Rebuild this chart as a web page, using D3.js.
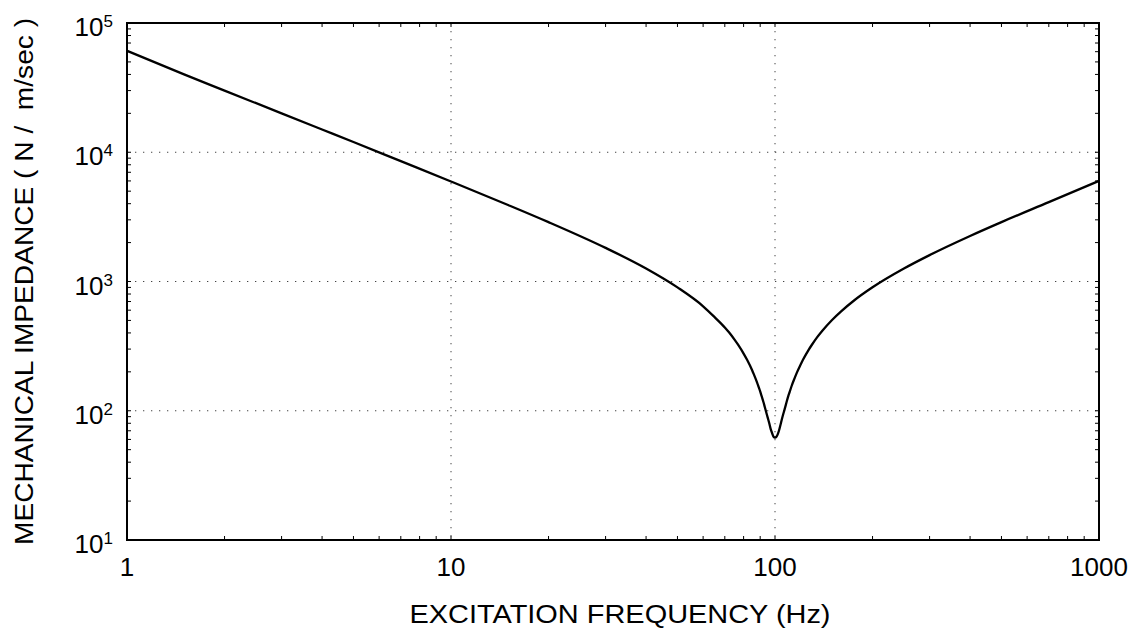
<!DOCTYPE html>
<html>
<head>
<meta charset="utf-8">
<script src="https://cdn.jsdelivr.net/npm/d3@7"></script>
<style>
  body { margin: 0; background: #fff; }
  svg text { font-family: "Liberation Sans", Arial, Helvetica, sans-serif; fill: #000; }
</style>
</head>
<body>
<div id="chart"></div>
<script>
// frequencies (Hz) and impedance (N / m/sec)
const freqs = [1, 1.5, 2, 3, 4, 5, 7, 10, 15, 20, 30, 40, 50, 60, 65, 70, 72, 75, 77, 80, 82, 85, 86, 88, 89, 90, 91, 92, 93, 94, 95, 96, 97, 98, 99, 100,
               101, 102, 103, 104, 105, 106, 107, 108, 109, 110, 111, 112, 113, 115, 117, 120, 122, 125, 127, 130, 135, 140, 150, 160, 175, 200, 250, 300, 400, 500, 700, 1000];
const impedance = [61000, 40000, 30000, 20000, 15000, 12000, 8530, 5940, 3910, 2880, 1820, 1260, 900, 643, 532, 441, 406, 355, 323, 277, 248, 206, 192, 166, 153, 141, 129, 118, 107, 97, 88, 80, 72, 67, 63, 62,
                   63, 66, 71, 78, 86, 94, 102, 111, 121, 131, 140, 150, 160, 179, 199, 228, 248, 277, 296, 324, 371, 416, 504, 588, 710, 902, 1260, 1600, 2250, 2880, 4110, 6000];

const xMajor = [1, 10, 100, 1000];
const xTickLabels = ["1", "10", "100", "1000"];
const yMajor = [10, 100, 1000, 10000, 100000];
const yExponents = ["1", "2", "3", "4", "5"];

const W = 1138, H = 641;
const margin = { top: 23, right: 39, bottom: 101, left: 127 };
const width = W - margin.left - margin.right;
const height = H - margin.top - margin.bottom;

const svg = d3.select("#chart").append("svg")
    .attr("width", W)
    .attr("height", H);

const g = svg.append("g")
    .attr("transform", "translate(" + margin.left + "," + margin.top + ")");

const x = d3.scaleLog().domain([1, 1000]).range([0, width]);
const y = d3.scaleLog().domain([10, 100000]).range([height, 0]);

// minor tick positions (2..9 per decade)
const xMinor = [];
for (let d = 1; d < 1000; d *= 10) for (let k = 2; k <= 9; k++) xMinor.push(d * k);
const yMinor = [];
for (let d = 10; d < 100000; d *= 10) for (let k = 2; k <= 9; k++) yMinor.push(d * k);

// dotted grid at the decades
g.append("g").selectAll("line")
    .data(xMajor.slice(1, -1))
    .enter().append("line")
    .attr("x1", d => x(d)).attr("x2", d => x(d))
    .attr("y1", 0).attr("y2", height)
    .attr("stroke", "#444")
    .attr("stroke-width", 1)
    .attr("stroke-dasharray", "1.3,6.7");

g.append("g").selectAll("line")
    .data(yMajor.slice(1, -1))
    .enter().append("line")
    .attr("y1", d => y(d)).attr("y2", d => y(d))
    .attr("x1", 0).attr("x2", width)
    .attr("stroke", "#444")
    .attr("stroke-width", 1)
    .attr("stroke-dasharray", "1.3,6.7");

// inside ticks on all four sides
const tickLen = 4;
const ticks = g.append("g").attr("stroke", "#000").attr("stroke-width", 1);
xMinor.concat(xMajor).forEach(function(d) {
    ticks.append("line").attr("x1", x(d)).attr("x2", x(d)).attr("y1", height).attr("y2", height - tickLen);
    ticks.append("line").attr("x1", x(d)).attr("x2", x(d)).attr("y1", 0).attr("y2", tickLen);
});
yMinor.concat(yMajor).forEach(function(d) {
    ticks.append("line").attr("y1", y(d)).attr("y2", y(d)).attr("x1", 0).attr("x2", tickLen);
    ticks.append("line").attr("y1", y(d)).attr("y2", y(d)).attr("x1", width).attr("x2", width - tickLen);
});

// the curve
const line = d3.line()
    .x((d, i) => x(freqs[i]))
    .y(d => y(d))
    .curve(d3.curveMonotoneX);

g.append("path")
    .datum(impedance)
    .attr("fill", "none")
    .attr("stroke", "#000")
    .attr("stroke-width", 2.3)
    .attr("stroke-linejoin", "round")
    .attr("d", line);

// frame
g.append("rect")
    .attr("x", 0).attr("y", 0)
    .attr("width", width).attr("height", height)
    .attr("fill", "none")
    .attr("stroke", "#000")
    .attr("stroke-width", 2);

// x tick labels
g.append("g").selectAll("text")
    .data(xMajor)
    .enter().append("text")
    .attr("x", d => x(d))
    .attr("y", height + 36)
    .attr("text-anchor", "middle")
    .attr("font-size", 26)
    .text((d, i) => xTickLabels[i]);

// y tick labels as 10^n
const ylab = g.append("g").selectAll("text")
    .data(yMajor)
    .enter().append("text")
    .attr("x", -14)
    .attr("y", d => y(d) + 13)
    .attr("text-anchor", "end")
    .attr("font-size", 26);
ylab.append("tspan").text("10");
ylab.append("tspan")
    .attr("font-size", 17)
    .attr("dy", -9)
    .text((d, i) => yExponents[i]);

// axis titles
svg.append("text")
    .attr("x", 620)
    .attr("y", 623)
    .attr("text-anchor", "middle")
    .attr("font-size", 26)
    .attr("textLength", 421)
    .attr("lengthAdjust", "spacingAndGlyphs")
    .text("EXCITATION FREQUENCY (Hz)");

svg.append("text")
    .attr("transform", "translate(33," + (margin.top + height / 2) + ") rotate(-90)")
    .attr("text-anchor", "middle")
    .attr("font-size", 26)
    .attr("textLength", 527)
    .attr("lengthAdjust", "spacingAndGlyphs")
    .style("white-space", "pre")
    .text("MECHANICAL IMPEDANCE ( N /  m/sec )");
</script>
</body>
</html>
